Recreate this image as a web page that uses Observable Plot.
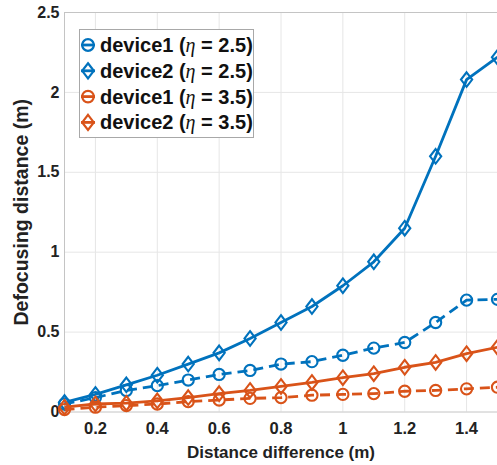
<!DOCTYPE html>
<html><head><meta charset="utf-8">
<script src="https://cdn.jsdelivr.net/npm/d3@7"></script>
<script src="https://cdn.jsdelivr.net/npm/@observablehq/plot@0.6"></script>
<style>
body{margin:0;background:#fff;}
#wrap{position:relative;width:497px;height:465px;overflow:hidden;font-family:"Liberation Sans",Arial,Helvetica,sans-serif;}
#wrap svg{overflow:hidden;}
#legend{position:absolute;left:79px;top:29px;}
</style>
</head><body>
<div id="wrap"></div>
<script>
// Data
const distance = [0.1,0.2,0.3,0.4,0.5,0.6,0.7,0.8,0.9,1.0,1.1,1.2,1.3,1.4,1.5];
const device1Eta25 = [0.05,0.09,0.135,0.165,0.20,0.235,0.26,0.30,0.315,0.355,0.40,0.435,0.56,0.70,0.705];
const device2Eta25 = [0.06,0.11,0.17,0.23,0.30,0.37,0.46,0.56,0.66,0.79,0.94,1.15,1.60,2.08,2.22];
const device1Eta35 = [0.015,0.03,0.04,0.05,0.065,0.075,0.085,0.09,0.105,0.11,0.115,0.13,0.135,0.145,0.155];
const device2Eta35 = [0.03,0.05,0.055,0.07,0.09,0.115,0.135,0.16,0.185,0.215,0.24,0.28,0.31,0.365,0.405];
const seriesNames = ["device1", "device2", "device1", "device2"];
const etaValues = ["2.5", "2.5", "3.5", "3.5"];
const xTicks = [0.2,0.4,0.6,0.8,1.0,1.2,1.4];
const yTicks = [0,0.5,1,1.5,2,2.5];
const xLabel = "Distance difference (m)";
const yLabel = "Defocusing distance (m)";

const blue = "#0072BD", orange = "#D95319";
const seriesDefs = [
  {values: device1Eta25, color: blue, marker: "circle", dashed: true},
  {values: device2Eta25, color: blue, marker: "diamond", dashed: false},
  {values: device1Eta35, color: orange, marker: "circle", dashed: true},
  {values: device2Eta35, color: orange, marker: "diamond", dashed: false}
];

const tallDiamond = {
  draw(context, size) {
    const r = Math.sqrt(size / Math.PI);
    const hh = r * 1.3, hw = r * 1.0;
    context.moveTo(0, -hh);
    context.lineTo(hw, 0);
    context.lineTo(0, hh);
    context.lineTo(-hw, 0);
    context.closePath();
  }
};

const marks = [
  Plot.gridX(xTicks, {stroke: "#e6e6e6", strokeOpacity: 1}),
  Plot.gridY(yTicks.filter(v => v > 0 && v < 2.5), {stroke: "#e6e6e6", strokeOpacity: 1}),
  Plot.ruleY([2.5], {stroke: "#c4c4c4"}),
  Plot.ruleY([0], {stroke: "#c4c4c4"}),
  Plot.ruleX([0.1], {stroke: "#c4c4c4"}),
  Plot.axisX(xTicks, {tickSize: 0, tickPadding: 10, fontSize: 16.5, fontWeight: "bold", color: "#222", tickFormat: d => String(+d.toFixed(1)), label: null}),
  Plot.axisY(yTicks, {tickSize: 0, tickPadding: 5, fontSize: 16, fontWeight: "bold", color: "#222", tickFormat: d => String(d), label: null}),
  Plot.text([xLabel], {frameAnchor: "bottom", dy: 41, text: d => d, fontSize: 17, fontWeight: "bold", fill: "#222", lineAnchor: "middle", textAnchor: "middle"}),
  Plot.text([yLabel], {frameAnchor: "left", dx: -43, rotate: -90, text: d => d, fontSize: 19.5, fontWeight: "bold", fill: "#222", lineAnchor: "middle", textAnchor: "middle"})
];

for (const s of seriesDefs) {
  const rows = distance.map((x, i) => ({x, y: s.values[i]}));
  marks.push(Plot.line(rows, {x: "x", y: "y", stroke: s.color, strokeWidth: 2.8, strokeDasharray: s.dashed ? "10,6" : null, strokeLinecap: "butt"}));
  marks.push(Plot.dot(rows, {x: "x", y: "y", r: 5.6, symbol: s.marker === "circle" ? "circle" : tallDiamond, stroke: s.color, strokeWidth: 2.1, fill: "none"}));
}

const chart = Plot.plot({
  width: 497,
  height: 465,
  marginLeft: 64,
  marginRight: 0,
  marginTop: 12,
  marginBottom: 53.5,
  style: {fontFamily: "'Liberation Sans', Arial, Helvetica, sans-serif", background: "#fff"},
  x: {domain: [0.1, 1.5]},
  y: {domain: [0, 2.5]},
  marks
});
const wrap = document.getElementById("wrap");
wrap.appendChild(chart);

// Legend (overlay inside the axes)
const lw = 175, lh = 109;
const leg = d3.select(wrap).append("svg").attr("id", "legend").attr("width", lw).attr("height", lh);
leg.append("rect").attr("x", 0.5).attr("y", 0.5).attr("width", lw - 1).attr("height", lh - 1).attr("fill", "#fff").attr("stroke", "#a8a8a8");
seriesDefs.forEach((s, i) => {
  const cy = 16 + i * 25.8;
  const g = leg.append("g").attr("transform", `translate(9,${cy})`);
  g.append("line").attr("x1", -7).attr("x2", 7).attr("stroke", s.color).attr("stroke-width", 2.8);
  if (s.marker === "circle") g.append("circle").attr("r", 5.8).attr("fill", "none").attr("stroke", s.color).attr("stroke-width", 2.2);
  else g.append("path").attr("d", d3.symbol(tallDiamond, Math.PI * 5.8 * 5.8)()).attr("fill", "none").attr("stroke", s.color).attr("stroke-width", 2.2);
  const t = leg.append("text").attr("x", 21).attr("y", cy + 7).attr("font-size", 20).attr("font-weight", "bold").attr("fill", "#111")
    .attr("font-family", "'Liberation Sans', Arial, Helvetica, sans-serif");
  t.append("tspan").text(seriesNames[i] + " (");
  t.append("tspan").attr("font-family", "'Liberation Serif', 'DejaVu Serif', serif").attr("font-style", "italic").attr("font-weight", "normal").text("η");
  t.append("tspan").text(" = " + etaValues[i] + ")");
});
</script>
</body></html>
